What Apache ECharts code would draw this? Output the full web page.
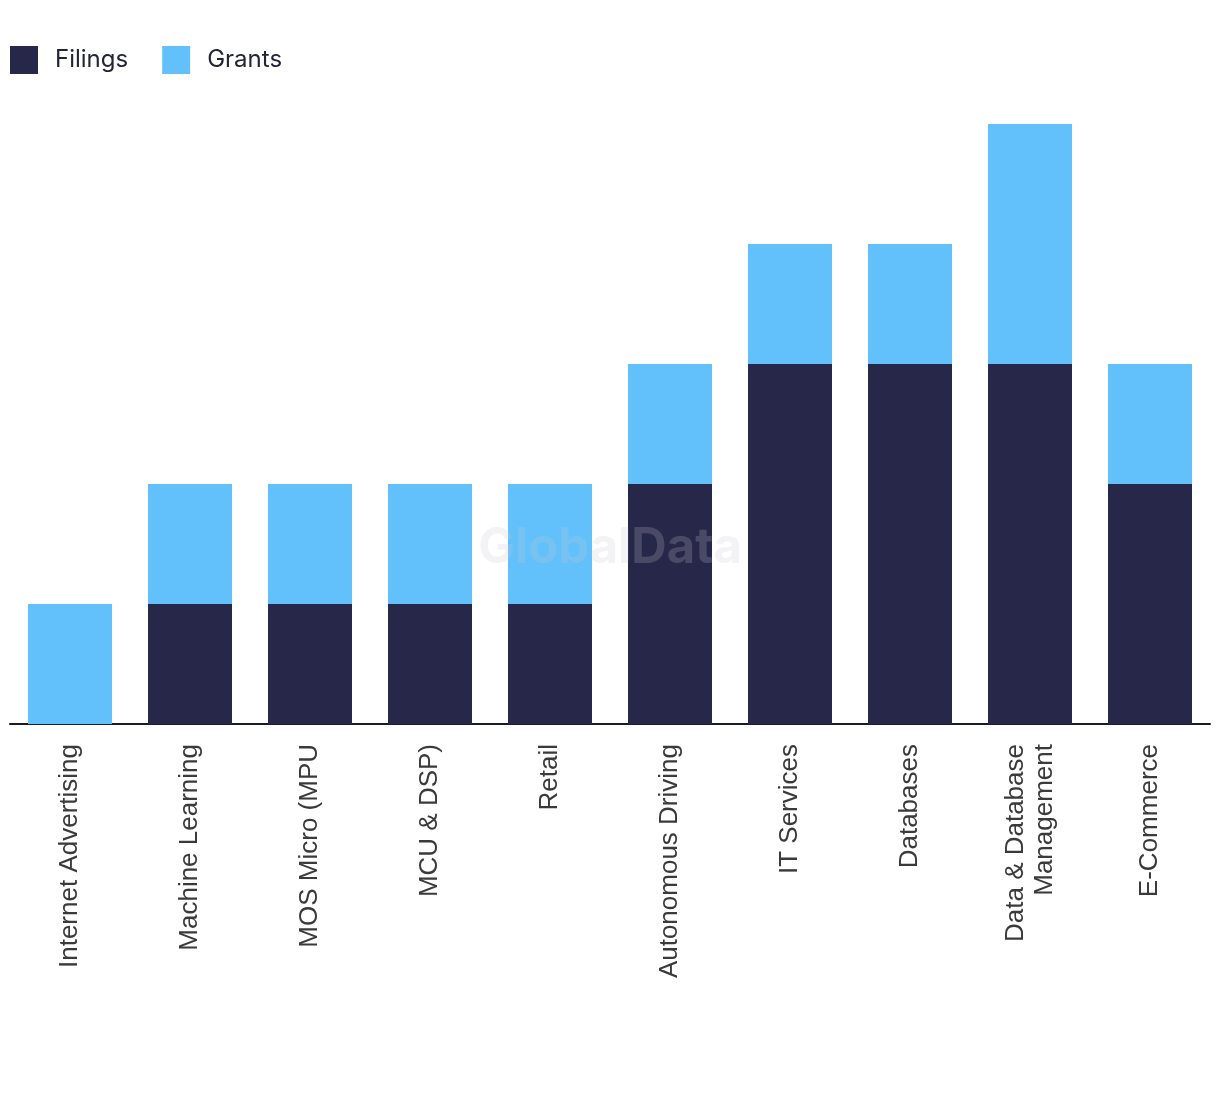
<!DOCTYPE html>
<html>
<head>
<meta charset="utf-8">
<script src="https://cdn.jsdelivr.net/npm/echarts@6/dist/echarts.min.js"></script>
<style>html,body{margin:0;padding:0;background:#fff}#c{width:1220px;height:1094px}</style>
</head>
<body>
<div id="c"></div>
<script>
const categories = ['Internet Advertising','Machine Learning','MOS Micro (MPU','MCU & DSP)','Retail','Autonomous Driving','IT Services','Databases','Data & Database\nManagement','E-Commerce'];
const filings = [0,1,1,1,1,2,3,3,3,2];
const grants = [1,1,1,1,1,1,1,1,2,1];

const chart = echarts.init(document.getElementById('c'));
chart.setOption({
  animation: false,
  legend: {
    left: 5, top: 41, itemWidth: 28, itemHeight: 28, itemGap: 34,
    icon: 'rect',
    textStyle: {fontFamily: 'Inter', fontSize: 24, color: '#222436', padding: [0,0,0,12]},
    data: ['Filings','Grants']
  },
  grid: {left: 10, right: 10, top: 124, bottom: 370},
  xAxis: {
    type: 'category', data: categories,
    axisLine: {lineStyle: {color: '#1a1a2e', width: 2}},
    axisTick: {show: false},
    axisLabel: {rotate: 90, margin: 20, fontFamily: 'Liberation Sans', fontSize: 26, color: '#3a3a3a', interval: 0, lineHeight: 29}
  },
  yAxis: {type: 'value', min: 0, max: 5, show: false, splitLine: {show: false}},
  series: [
    {name: 'Filings', type: 'bar', stack: 's', data: filings, barWidth: '70%', itemStyle: {color: '#27274a'}},
    {name: 'Grants', type: 'bar', stack: 's', data: grants, barWidth: '70%', itemStyle: {color: '#62c1fa'}}
  ],
  graphic: [{
    type: 'text', left: 'center', top: 524, z: 100,
    style: {text: 'GlobalData', font: 'bold 49px Inter', fill: 'rgba(200,200,210,0.22)'}
  }]
});
</script>
</body>
</html>
